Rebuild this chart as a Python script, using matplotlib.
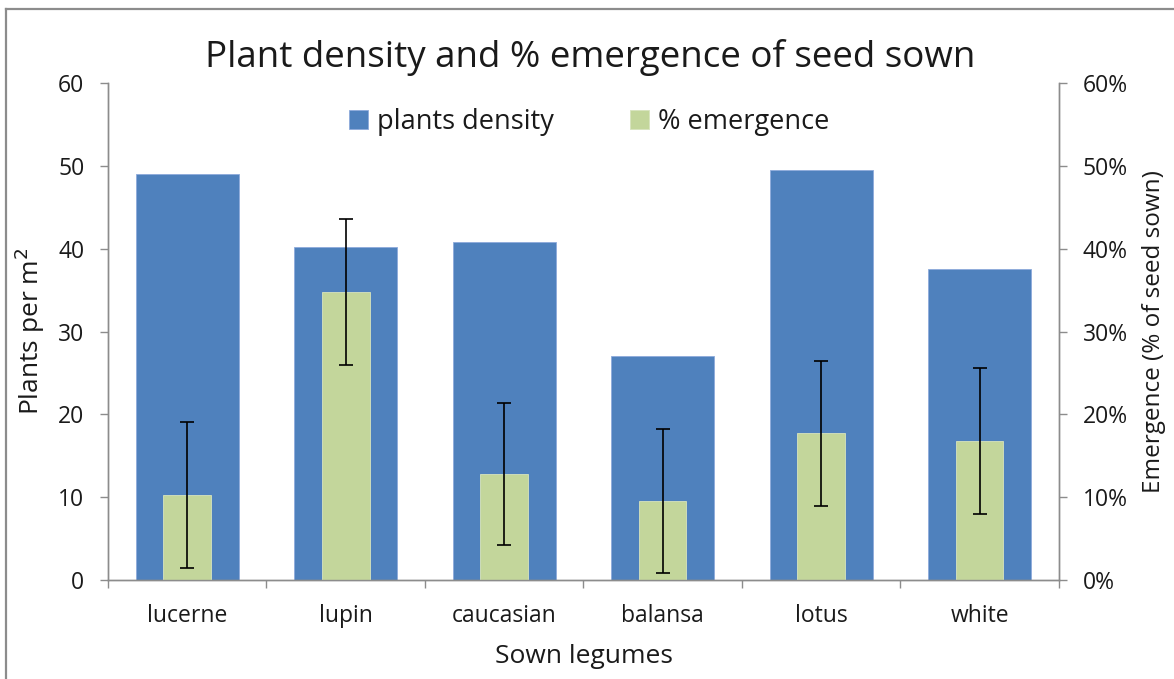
import numpy as np
import matplotlib
matplotlib.use("Agg")
import matplotlib.pyplot as plt
from matplotlib.lines import Line2D
from matplotlib.ticker import FuncFormatter, MultipleLocator

plt.rcParams['font.family'] = ['Open Sans', 'DejaVu Sans']

legumes = ["lucerne", "lupin", "caucasian", "balansa", "lotus", "white"]
density = [49.0, 40.2, 40.8, 27.0, 49.5, 37.6]          # plants per m2
emergence = [10.3, 34.8, 12.8, 9.6, 17.7, 16.8]         # % of seed sown
emergence_err = [8.8, 8.8, 8.6, 8.7, 8.8, 8.8]

BLUE = "#4F81BD"
GREEN = "#C3D69B"
GREY = "#8C8C8C"
TXT = "#1a1a1a"

fig = plt.figure(figsize=(11.74, 6.79), dpi=100)
ax = fig.add_axes([0.092, 0.1458, 0.81, 0.7315])
ax2 = ax.twinx()

x = np.arange(len(legumes))
ax.bar(x, density, width=0.65, color=BLUE, edgecolor="#8EAADB", linewidth=0.6,
       label="plants density", zorder=2)
ax2.bar(x, emergence, width=0.30, color=GREEN, edgecolor="#D7E4BD", linewidth=0.6,
        label="% emergence", zorder=2)
ax2.errorbar(x, emergence, yerr=emergence_err, fmt="none", ecolor="black",
             elinewidth=1.2, capsize=4.7, capthick=1.2, zorder=3)

ax.set_xlim(-0.5, len(legumes) - 0.5)
ax.set_ylim(0, 60)
ax2.set_ylim(0, 60)
ax.yaxis.set_major_locator(MultipleLocator(10))
ax2.yaxis.set_major_locator(MultipleLocator(10))
ax2.yaxis.set_major_formatter(FuncFormatter(lambda v, p: f"{v:.0f}%"))

ax.set_xticks(x)
ax.set_xticklabels(legumes)
ax.set_xticks(np.arange(-0.5, len(legumes)), minor=True)
ax.tick_params(axis="x", which="major", length=0, pad=17, labelsize=16.5, labelcolor=TXT)
ax.tick_params(axis="x", which="minor", length=6, width=1, color=GREY, direction="out")
ax.tick_params(axis="y", length=6, width=1, color=GREY, labelsize=16.5, labelcolor=TXT, pad=11)
ax2.tick_params(axis="y", length=6, width=1, color=GREY, labelsize=16.5, labelcolor=TXT, pad=11)

for a in (ax, ax2):
    a.spines["top"].set_visible(False)
    for s in ("left", "right", "bottom"):
        a.spines[s].set_color(GREY)
        a.spines[s].set_linewidth(1)

ax.set_ylabel("Plants per m$^2$", fontsize=19, color=TXT, labelpad=8)
ax2.set_ylabel("Emergence (% of seed sown)", fontsize=17.5, color=TXT, labelpad=10)
ax.set_xlabel("Sown legumes", fontsize=19, color=TXT, labelpad=12)
fig.text(0.503, 0.915, "Plant density and % emergence of seed sown",
         ha="center", va="center", fontsize=26.5, color=TXT)

h1, l1 = ax.get_legend_handles_labels()
h2, l2 = ax2.get_legend_handles_labels()
ax.legend(h1 + h2, l1 + l2, loc="center", bbox_to_anchor=(0.506, 0.922), ncol=2,
          frameon=False, fontsize=19.5, handlelength=0.7, handleheight=0.7,
          handletextpad=0.35, columnspacing=2.8, labelcolor=TXT)

# chart frame (top and left edges visible)
fig.add_artist(Line2D([6 / 1174, 1], [1 - 9 / 679, 1 - 9 / 679], color=GREY, lw=1.6,
                      transform=fig.transFigure))
fig.add_artist(Line2D([6 / 1174, 6 / 1174], [0, 1 - 9 / 679], color=GREY, lw=1.6,
                      transform=fig.transFigure))

fig.savefig("out.png", dpi=100)
